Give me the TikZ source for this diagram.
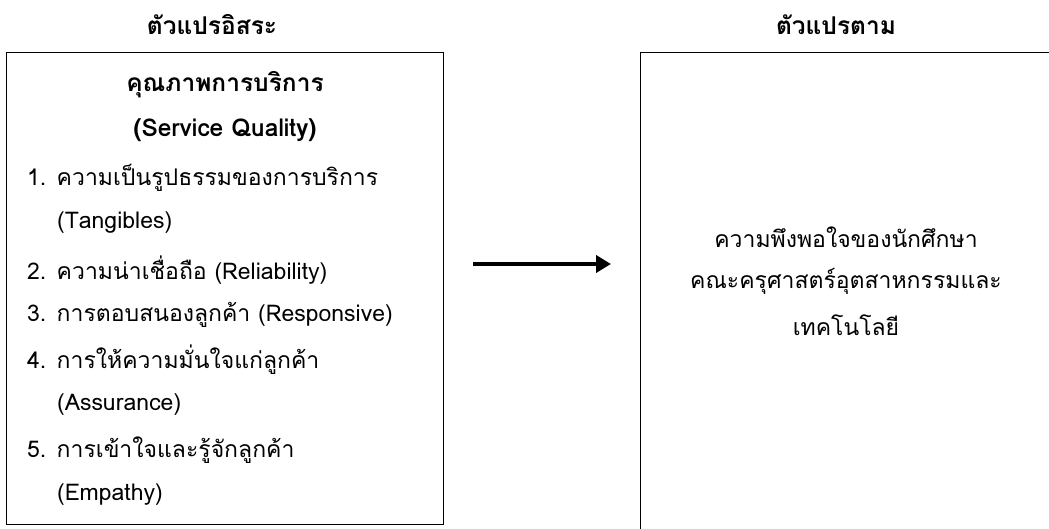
\documentclass[tikz,border=0pt]{standalone}
\usepackage{fontspec}
\setmainfont[Script=Thai]{Loma}
\usetikzlibrary{arrows.meta}
\tikzset{
  box/.style={draw, line width=1.3pt, inner sep=0pt, anchor=north west},
  head/.style={font=\fontsize{24.5}{28}\selectfont\bfseries, inner sep=0pt},
  txt/.style={font=\fontsize{23}{27}\selectfont, inner sep=0pt, anchor=west},
  ctxt/.style={font=\fontsize{23}{27}\selectfont, inner sep=0pt},
  link/.style={line width=4pt, -{Triangle[length=15pt,width=17pt]}}
}
\begin{document}
\begin{tikzpicture}[x=1pt,y=1pt]
\useasboundingbox (0,0) rectangle (1049,-528);
\clip (0,0) rectangle (1049,-528);
% headers
\node[head] (hind) at (212,-25) {ตัวแปรอิสระ};
\node[head] (hdep) at (836,-25) {ตัวแปรตาม};
% boxes
\node[box, minimum width=437pt, minimum height=472pt] (L) at (6,-52) {};
\node[box, minimum width=440pt, minimum height=500pt] (R) at (640,-52) {};
% left content
\node[head] (t1) at (225,-85) {คุณภาพการบริการ};
\node[head] (t2) at (225,-130) {(Service Quality)};
\node[txt] (l1) at (27,-178) {1. ความเป็นรูปธรรมของการบริการ};
\node[txt] (l1b) at (57,-223) {(Tangibles)};
\node[txt] (l2) at (27,-270) {2. ความน่าเชื่อถือ (Reliability)};
\node[txt] (l3) at (27,-315) {3. การตอบสนองลูกค้า (Responsive)};
\node[txt] (l4) at (27,-360) {4. การให้ความมั่นใจแก่ลูกค้า};
\node[txt] (l4b) at (57,-405) {(Assurance)};
\node[txt] (l5) at (27,-450) {5. การเข้าใจและรู้จักลูกค้า};
\node[txt] (l5b) at (57,-495) {(Empathy)};
% right content
\node[ctxt] (r1) at (846,-237) {ความพึงพอใจของนักศึกษา};
\node[ctxt] (r2) at (846,-281) {คณะครุศาสตร์อุตสาหกรรมและ};
\node[ctxt] (r3) at (846,-325) {เทคโนโลยี};
% arrow
\coordinate (a1) at (473,-264);
\coordinate (a2) at (611,-264);
\draw[link] (a1) -- (a2);
\end{tikzpicture}
\end{document}
